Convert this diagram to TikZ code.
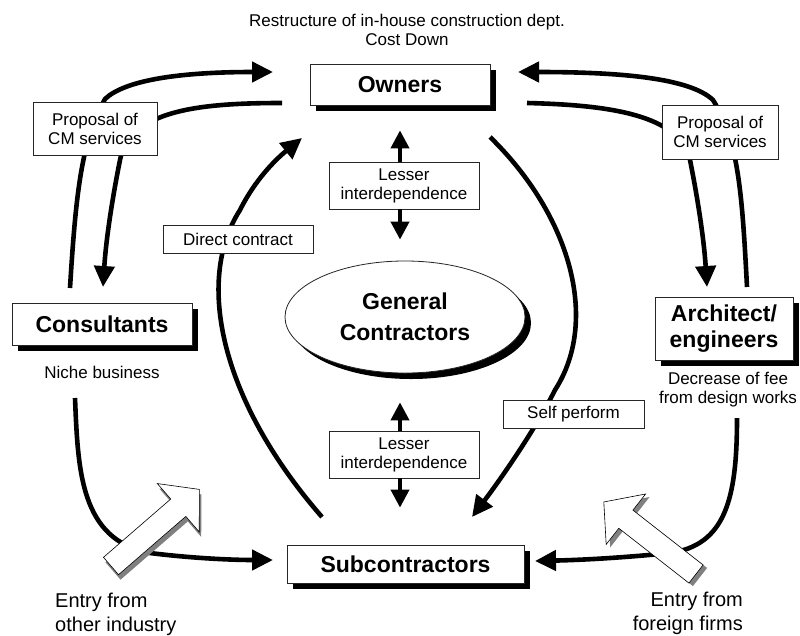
\documentclass[tikz,border=0pt]{standalone}
\usepackage{fontspec}
\setmainfont{Liberation Sans}
\usetikzlibrary{arrows.meta,shapes.geometric,shadows,positioning}

\tikzstyle{box}=[draw=black!85, line width=.8pt, fill=white, inner sep=0pt,
  align=center, font=\fontsize{23}{26}\selectfont\bfseries,
  drop shadow={shadow xshift=6pt, shadow yshift=-6pt, opacity=1, fill=black}]
\tikzstyle{gc}=[box, ellipse, font=\fontsize{23}{31}\selectfont\bfseries,
  drop shadow={shadow xshift=3pt, shadow yshift=-3pt, opacity=1, fill=black}]
\tikzstyle{tag}=[draw=black!85, line width=.8pt, fill=white, inner sep=0pt,
  align=center, font=\fontsize{17}{19}\selectfont]
\tikzstyle{note}=[inner sep=0pt, align=center, font=\fontsize{17}{19}\selectfont]
\tikzstyle{entry}=[inner sep=0pt, font=\fontsize{20}{24}\selectfont]
\tikzstyle{flow}=[line width=4.6pt, -{Triangle[length=21pt,width=20pt]}]
\tikzstyle{plain}=[line width=4.6pt]
\tikzstyle{link}=[line width=4pt, -{Triangle[length=18pt,width=18pt]}]

% hollow block arrow: tail point, angle, shadow shift
\newcommand{\entryarrow}[4]{%
  \fill[black!50, shift={#1}, xshift=#3, yshift=#4, rotate=#2]
    (0,-11.5) -- (89,-11.5) -- (89,-32) -- (117,0) -- (89,32) -- (89,11.5) -- (0,11.5) -- cycle;
  \filldraw[fill=white, draw=black, line width=.6pt, shift={#1}, rotate=#2]
    (0,-11.5) -- (89,-11.5) -- (89,-32) -- (117,0) -- (89,32) -- (89,11.5) -- (0,11.5) -- cycle;
}

\begin{document}
\begin{tikzpicture}[x=1pt, y=-1pt]
  \useasboundingbox (0,0) rectangle (800,635);

  % parties
  \node[box, minimum width=180pt, minimum height=41pt] (own) at (400,84.5) {Owners};
  \node[box, minimum width=180pt, minimum height=42pt] (con) at (102,324) {Consultants};
  \node[box, minimum width=138pt, minimum height=63pt] (arc) at (724,328.5) {Architect/\\engineers};
  \node[box, minimum width=237pt, minimum height=38pt] (sub) at (405.5,564) {Subcontractors};
  \node[gc, minimum width=240pt, minimum height=112pt] (gen) at (405,317) {General\\Contractors};

  \node[note] (top) at (407,30) {Restructure of in-house construction dept.\\Cost Down};
  \node[note, anchor=base] (niche) at (102,378) {Niche business};
  \node[note] (fee) at (728,390) {Decrease of fee\\from design works};
  \node[entry, align=left, anchor=north west] (other) at (55,593) {Entry from\\other industry};
  \node[entry, align=right, anchor=north east] (foreign) at (743,592) {Entry from\\foreign firms};

  % loose ends of the curved flows
  \coordinate (c1) at (70,288);
  \coordinate (c2) at (103,287);
  \coordinate (c3) at (75,398);
  \coordinate (o1) at (273,72);
  \coordinate (o2) at (282,103);
  \coordinate (o3) at (518,72);
  \coordinate (o4) at (527,103);
  \coordinate (o5) at (302,138);
  \coordinate (o6) at (490,137);
  \coordinate (a1) at (747,287);
  \coordinate (a2) at (707,287);
  \coordinate (a3) at (737,418);
  \coordinate (s1) at (273,560);
  \coordinate (s2) at (535,561);
  \coordinate (s3) at (322,517);
  \coordinate (s4) at (472,517);

  \draw[flow] (c1) .. controls (76,190) and (82,140) .. (105,99) .. controls (125,80) and (180,72) .. (o1);
  \draw[flow] (o2) .. controls (200,103) and (130,110) .. (120,160) .. controls (112,200) and (106,240) .. (c2);
  \draw[flow] (a1) .. controls (742,190) and (738,140) .. (713,100) .. controls (690,78) and (620,72) .. (o3);
  \draw[flow] (o4) .. controls (610,105) and (680,115) .. (690,160) .. controls (698,200) and (704,240) .. (a2);
  \draw[flow] (s3) .. controls (220,400) and (195,280) .. (240,210) .. controls (255,180) and (275,160) .. (o5);
  \draw[flow] (o6) .. controls (570,215) and (600,320) .. (555,390) .. controls (535,430) and (500,480) .. (s4);
  \draw[flow] (c3) .. controls (78,470) and (80,540) .. (150,553) .. controls (190,558) and (230,560) .. (s1);
  \draw[flow] (a3) .. controls (737,500) and (725,545) .. (670,553) .. controls (620,558) and (580,560) .. (s2);

  \entryarrow{(111,566)}{40.9}{2pt}{-5pt}
  \entryarrow{(696,574)}{142}{4pt}{-3pt}

  % labels on the flows
  \node[tag, minimum width=124pt, minimum height=53pt] (propL) at (95,128.5) {Proposal of\\CM services};
  \node[tag, minimum width=116pt, minimum height=54pt] (propR) at (720,132) {Proposal of\\CM services};
  \node[tag, minimum width=150pt, minimum height=28pt] (direct) at (238,239) {Direct contract};
  \node[tag, minimum width=141pt, minimum height=28pt] (self) at (573.5,414) {Self perform};
  \node[tag, minimum width=150pt, minimum height=47pt] (lessA) at (404,185.5) {Lesser\\interdependence};
  \node[tag, minimum width=150pt, minimum height=47pt] (lessB) at (404,454.5) {Lesser\\interdependence};

  \draw[link, shorten >=25pt] (lessA.north -| own) -- (own.south);
  \draw[link, shorten >=21pt] (lessA.south -| own) -- (gen.north -| own);
  \draw[link, shorten >=29pt] (lessB.north -| own) -- (gen.south -| own);
  \draw[link, shorten >=37pt] (lessB.south -| own) -- (sub.north -| own);
\end{tikzpicture}
\end{document}
